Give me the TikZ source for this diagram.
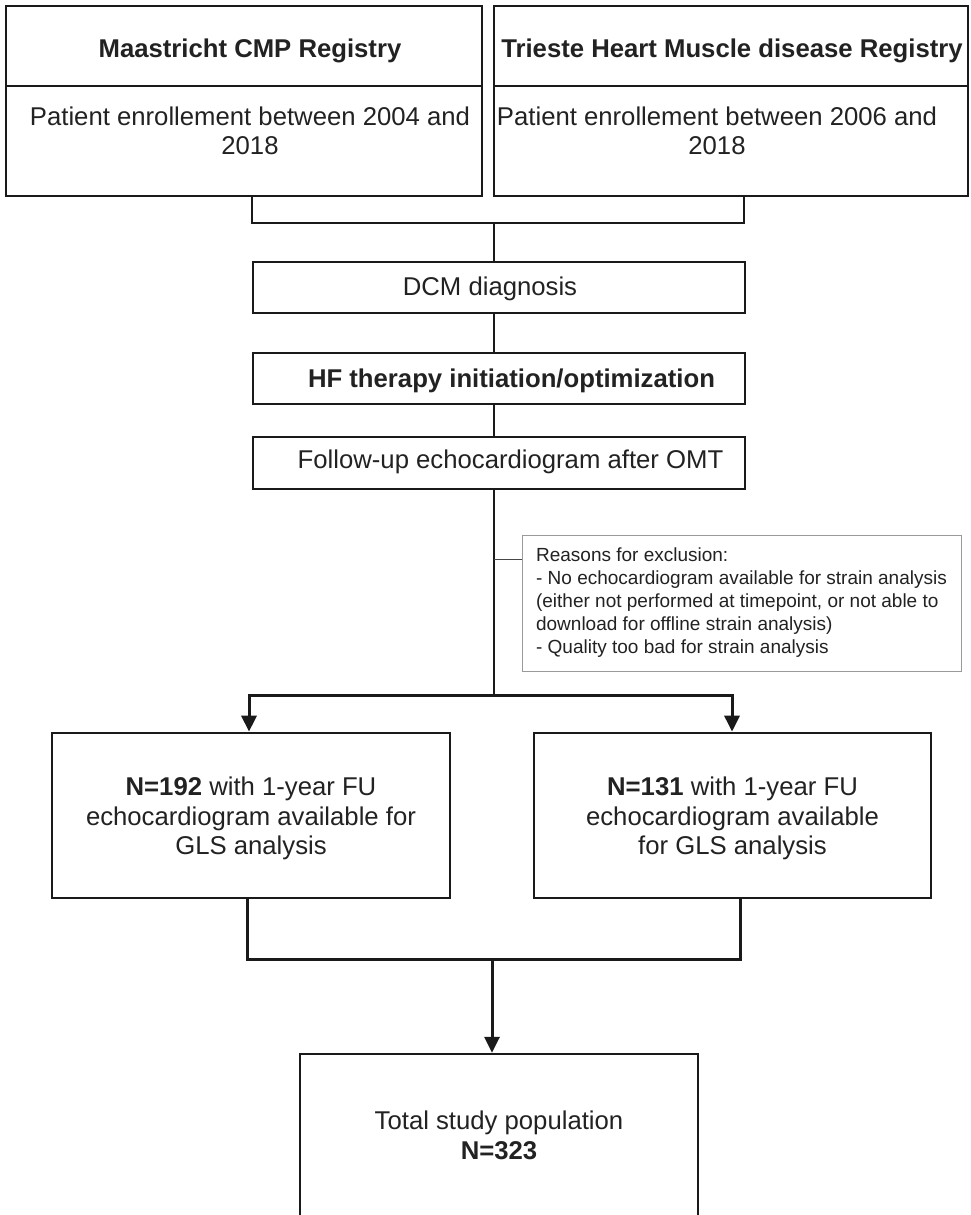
\documentclass[tikz,border=0pt]{standalone}
\usepackage{fontspec}
\setmainfont{Liberation Sans}
\usetikzlibrary{arrows.meta}
\definecolor{ink}{HTML}{1A1A1A}
\definecolor{txt}{HTML}{222222}
\definecolor{greyborder}{HTML}{9A9A9A}
\tikzset{
  base/.style={rectangle, inner sep=0pt, align=center, text=txt,
    font=\fontsize{25.7}{29.5}\selectfont},
  topbox/.style={base, draw=ink, line width=2pt},
  midbox/.style={base, draw=ink, line width=1.3pt},
  lowbox/.style={base, draw=ink, line width=2.7pt},
  plain/.style={base, draw=none},
  exclbox/.style={rectangle, draw=greyborder, line width=1pt, inner sep=0pt,
    align=left, text=txt, font=\fontsize{19}{23}\selectfont},
  conn/.style={draw=ink, line width=1.8pt},
  thickconn/.style={draw=ink, line width=3pt},
  thinconn/.style={draw=ink!80!white, line width=0.9pt},
  arr/.style={-{Triangle[length=16pt,width=15pt]}}
}
\begin{document}
\begin{tikzpicture}[x=1pt,y=-1pt]
\useasboundingbox (0,0) rectangle (970,1215);
\clip (0,0) rectangle (970,1215);
\fill[white] (0,0) rectangle (970,1215);

% top registries
\node[topbox, minimum width=476pt, minimum height=80pt] (ltitle) at (244,46) {};
\node[plain] (lttxt) at (250,51) {\textbf{Maastricht CMP Registry}};
\node[topbox, minimum width=476pt, minimum height=110pt] (lbody) at (244,141) {};
\node[plain] (ltxt) at (250,131) {Patient enrollement between 2004 and\\2018};
\node[topbox, minimum width=474pt, minimum height=80pt] (rtitle) at (731,46) {};
\node[plain] (rttxt) at (732,51) {\textbf{Trieste Heart Muscle disease Registry}};
\node[topbox, minimum width=474pt, minimum height=110pt] (rbody) at (731,141) {};
\node[plain] (rtxt) at (717,131) {Patient enrollement between 2006 and\\2018};

% middle steps
\node[midbox, minimum width=492pt, minimum height=51pt] (dcm) at (499,287.5) {};
\node[plain] (dcmtxt) at (490,288.5) {DCM diagnosis};
\node[midbox, minimum width=492pt, minimum height=51pt] (hf) at (499,378.5) {};
\node[plain] (hftxt) at (511.5,380.5) {\textbf{HF therapy initiation/optimization}};
\node[midbox, minimum width=492pt, minimum height=52pt] (fu) at (499,463) {};
\node[plain] (futxt) at (510.5,462) {Follow-up echocardiogram after OMT};

% exclusion
\node[exclbox, minimum width=439pt, minimum height=136pt] (excl) at (741.5,603) {Reasons for exclusion:\\- No echocardiogram available for strain analysis\\(either not performed at timepoint, or not able to\\download for offline strain analysis)\\- Quality too bad for strain analysis};

% lower boxes
\node[lowbox, minimum width=398pt, minimum height=165pt] (lbox) at (251,815.5) {};
\node[plain] (lboxtxt) at (251,818.5) {\textbf{N=192} with 1-year FU\\echocardiogram available for\\GLS analysis};
\node[lowbox, minimum width=397pt, minimum height=165pt] (rbox) at (732.5,815.5) {};
\node[plain] (rboxtxt) at (732.5,818.5) {\textbf{N=131} with 1-year FU\\echocardiogram available\\for GLS analysis};
\node[lowbox, line width=2.3pt, minimum width=398pt, minimum height=163pt] (total) at (499,1135.5) {Total study population\\\textbf{N=323}};

% coordinates
\coordinate (t1) at (252,0);
\coordinate (t2) at (744,0);
\coordinate (j1) at (494,223);
\coordinate (j2) at (494,695);
\coordinate (tap) at (494,559);
\coordinate (a1) at (249,0);
\coordinate (a2) at (732,0);
\coordinate (b1) at (247,0);
\coordinate (b2) at (740,0);
\coordinate (j3) at (492,959);

% connectors
\draw[conn] (lbody.south -| t1) |- (j1) -| (rbody.south -| t2);
\draw[conn] (j1) -- (dcm.north -| j1);
\draw[conn] (dcm.south -| j1) -- (hf.north -| j1);
\draw[conn] (hf.south -| j1) -- (fu.north -| j1);
\draw[conn] (fu.south -| j2) -- (j2);
\draw[thinconn] (tap) -- (tap -| excl.west);
\draw[thickconn, arr] (j2) -| (lbox.north -| a1);
\draw[thickconn, arr] (j2) -| (rbox.north -| a2);
\draw[thickconn] (lbox.south -| b1) |- (j3) -| (rbox.south -| b2);
\draw[thickconn, arr] (j3) -- (total.north -| j3);
\end{tikzpicture}
\end{document}
